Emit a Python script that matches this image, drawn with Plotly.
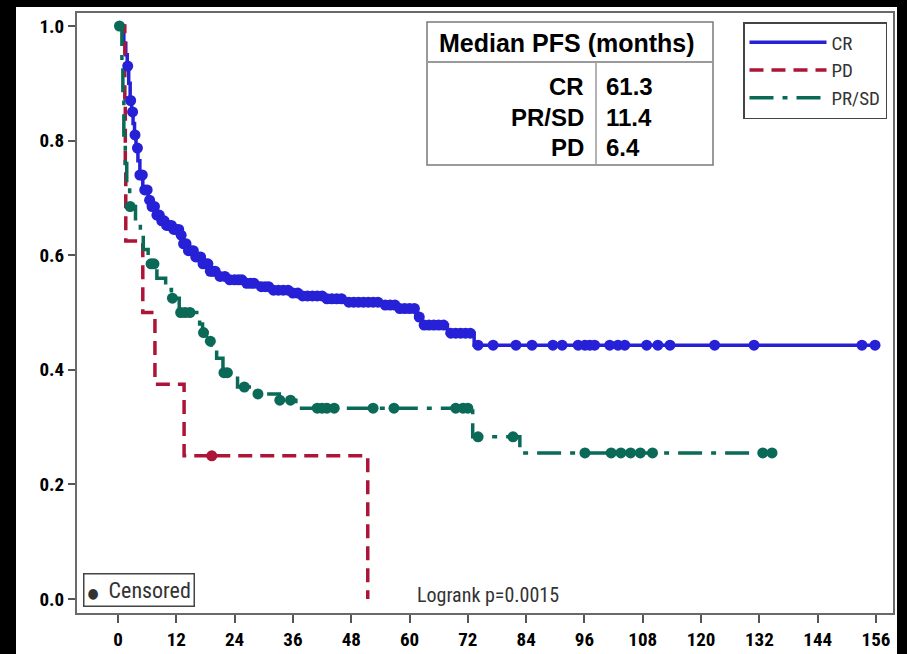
import plotly.graph_objects as go

# ---------------- data ----------------
# Kaplan-Meier step curves: time in months, survival probability
cr_time = [0, 1.2, 1.6, 1.9, 2.2, 2.5, 2.8, 3.1, 3.4, 3.7, 4.1, 4.5, 5.1, 6.2, 6.8, 7.8,
           8.8, 10.0, 11.5, 12.8, 13.5, 14.5, 16.0, 17.5, 18.8, 20.5, 22.5, 26.0, 29.0,
           32.0, 35.5, 38.0, 42.5, 46.5, 54.0, 57.5, 61.3, 62.5, 67.8, 73.3]
cr_surv = [1.0, 0.97, 0.95, 0.93, 0.90, 0.87, 0.85, 0.83, 0.81, 0.787, 0.765, 0.74,
           0.714, 0.696, 0.685, 0.67, 0.66, 0.652, 0.645, 0.635, 0.62, 0.608, 0.597,
           0.585, 0.572, 0.563, 0.557, 0.551, 0.545, 0.539, 0.534, 0.529, 0.524, 0.518,
           0.513, 0.507, 0.492, 0.478, 0.464, 0.443]
cr_censor = [2.0, 2.6, 3.0, 3.5, 4.0, 4.5, 5.0, 5.5, 6.0, 6.5, 7.0, 7.5, 8.0, 8.5, 9.0,
             9.5, 10.0, 10.5, 11.0, 11.5, 12.0, 12.5, 13.0, 13.5, 14.0, 14.5, 15.0,
             15.5, 16.0, 16.5, 17.0, 17.5, 18.0, 18.5, 19.0, 19.5, 20.0, 21.0, 22.0,
             23.0, 24.0, 24.8, 25.5, 26.5, 27.3, 28.0, 29.5, 30.3, 31.0, 32.0, 33.0,
             34.0, 35.0, 36.0, 37.0, 38.0, 39.0, 40.0, 41.0, 42.0, 43.0, 44.0, 45.0,
             46.0, 47.5, 48.5, 49.5, 50.5, 51.5, 52.5, 53.5, 55.0, 56.0, 57.0, 58.0,
             59.0, 60.0, 61.0, 62.0, 63.0, 64.0, 65.0, 66.0, 67.0, 68.5, 69.5, 70.5,
             71.5, 72.5, 74.1, 77.2, 81.9, 85.2, 89.5, 91.4, 94.7, 96.1, 97.1, 98.1,
             101.2, 102.9, 104.3, 108.8, 111.1, 113.6, 122.8, 130.9, 153.1, 155.8]

prsd_time = [0, 0.8, 1.0, 1.2, 1.5, 1.8, 2.4, 3.6, 4.6, 5.2, 6.2, 8.0, 9.8, 11.0,
             12.6, 16.8, 17.4, 18.2, 19.2, 20.3, 21.6, 24.6, 28.5, 33.2, 36.6, 73.0, 82.7]
prsd_surv = [1.0, 0.93, 0.87, 0.81, 0.76, 0.72, 0.685, 0.66, 0.64, 0.61, 0.585, 0.56,
             0.54, 0.525, 0.50, 0.48, 0.465, 0.45, 0.435, 0.42, 0.395, 0.37, 0.358,
             0.347, 0.333, 0.283, 0.255]
prsd_censor = [0.3, 2.5, 6.8, 7.4, 11.2, 12.9, 13.8, 14.8, 17.6, 19.0, 21.8, 22.5, 26.0,
               28.8, 33.3, 35.5, 41.0, 42.0, 43.0, 44.5, 52.5, 56.8, 69.5, 71.0, 72.0,
               74.1, 81.3, 96.1, 101.5, 103.5, 105.5, 107.5, 110.0, 132.7, 134.6]

pd_time = [0, 1.4, 1.5, 1.6, 5.1, 7.6, 13.6, 51.4]
pd_surv = [1.0, 0.875, 0.75, 0.625, 0.5, 0.375, 0.25, 0.0]
pd_censor = [19.3]

x_ticks = [0, 12, 24, 36, 48, 60, 72, 84, 96, 108, 120, 132, 144, 156]
y_ticks = [0.0, 0.2, 0.4, 0.6, 0.8, 1.0]

table_groups = ["CR", "PR/SD", "PD"]
table_medians = ["61.3", "11.4", "6.4"]
logrank_text = "Logrank p=0.0015"

# ---------------- styling ----------------
C_CR = "#2620d6"
C_PD = "#ad1538"
C_PRSD = "#0a6a57"
NARROW = "Liberation Sans Narrow, Arial Narrow, Roboto Condensed, DejaVu Sans Condensed, Liberation Sans, sans-serif"
ARIAL = "Liberation Sans, Arial, sans-serif"


def step_value(times, surv, t):
    v = surv[0]
    for ti, si in zip(times, surv):
        if ti <= t:
            v = si
    return v


def extend(times, surv, censor):
    xs, ys = list(times), list(surv)
    if censor and max(censor) > xs[-1]:
        xs.append(max(censor))
        ys.append(ys[-1])
    return xs, ys


fig = go.Figure()

series = [
    ("CR", cr_time, cr_surv, cr_censor, C_CR, "solid"),
    ("PD", pd_time, pd_surv, pd_censor, C_PD, "14px,8px"),
    ("PR/SD", prsd_time, prsd_surv, prsd_censor, C_PRSD, "24px,9px,5px,9px"),
]

for name, t, s, c, col, dash in series:
    xs, ys = extend(t, s, c)
    fig.add_trace(go.Scatter(x=xs, y=ys, mode="lines", name=name,
                             line=dict(color=col, width=3.5, dash=dash, shape="hv"),
                             hoverinfo="skip"))

for name, t, s, c, col, dash in series:
    fig.add_trace(go.Scatter(x=c, y=[step_value(t, s, ci) for ci in c], mode="markers",
                             showlegend=False, name=name + " censored",
                             marker=dict(color=col, size=11, symbol="circle",
                                         line=dict(width=0))))

# plot-area geometry in pixels: x 77..893, y 13..613
def px(x):
    return (x - 77) / 816.0


def py(y):
    return (613 - y) / 600.0


shapes = [
    # white page region over black background
    dict(type="rect", xref="paper", yref="paper", x0=px(16), x1=px(897), y0=py(7), y1=py(660),
         fillcolor="white", line=dict(width=0), layer="below"),
    # table box
    dict(type="rect", xref="paper", yref="paper", x0=px(427), x1=px(713), y0=py(165), y1=py(22),
         line=dict(color="#7a7a7a", width=1.5), fillcolor="rgba(0,0,0,0)"),
    dict(type="line", xref="paper", yref="paper", x0=px(427), x1=px(713), y0=py(62), y1=py(62),
         line=dict(color="#9a9a9a", width=2)),
    dict(type="line", xref="paper", yref="paper", x0=px(596), x1=px(596), y0=py(62), y1=py(165),
         line=dict(color="#9a9a9a", width=1.5)),
]

annotations = [
    dict(xref="paper", yref="paper", x=px(567), y=py(43), text="<b>Median PFS (months)</b>",
         showarrow=False, xanchor="center", yanchor="middle",
         font=dict(family=ARIAL, size=25, color="black")),
    dict(xref="paper", yref="paper", x=px(415), y=py(595), text=logrank_text,
         showarrow=False, xanchor="left", yanchor="middle",
         font=dict(family=NARROW, size=20, color="#333333")),
    dict(xref="paper", yref="paper", x=px(83), y=py(590),
         text="<span style='font-size:14px'>●</span>  Censored",
         showarrow=False, xanchor="left", yanchor="middle",
         bordercolor="#444444", borderwidth=1.5, borderpad=3, bgcolor="white",
         font=dict(family=NARROW, size=22, color="#333333")),
]
row_y = [86, 117, 147]
for g, m, yy in zip(table_groups, table_medians, row_y):
    annotations.append(dict(xref="paper", yref="paper", x=px(586), y=py(yy), text="<b>%s</b>" % g,
                            showarrow=False, xanchor="right", yanchor="middle",
                            font=dict(family=ARIAL, size=24, color="black")))
    annotations.append(dict(xref="paper", yref="paper", x=px(604), y=py(yy), text="<b>%s</b>" % m,
                            showarrow=False, xanchor="left", yanchor="middle",
                            font=dict(family=ARIAL, size=24, color="black")))

axis_common = dict(showline=True, linecolor="#6a6a6a", linewidth=2, mirror=True,
                   showgrid=False, zeroline=False, ticks="outside", tickcolor="#555555",
                   tickwidth=2, automargin=False,
                   tickfont=dict(family=NARROW, size=19, color="black", weight="bold"))

fig.update_layout(
    template="none",
    width=907, height=654,
    margin=dict(l=77, r=14, t=13, b=41),
    paper_bgcolor="black", plot_bgcolor="white",
    xaxis=dict(range=[-8.44, 159.5], tickvals=x_ticks, ticklen=8, **axis_common),
    yaxis=dict(range=[-0.0244, 1.0227], tickvals=y_ticks, tickformat=".1f", ticklen=7,
               **axis_common),
    legend=dict(x=px(743), y=py(22), xanchor="left", yanchor="top",
                bordercolor="#444444", borderwidth=1.5, bgcolor="white",
                font=dict(family=NARROW, size=19, color="#333333"),
                itemwidth=77, tracegroupgap=0),
    shapes=shapes, annotations=annotations,
    showlegend=True,
)

fig.write_html("out.html", config={"displayModeBar": False},
               post_script="document.body.style.margin='0';document.body.style.background='black';")
